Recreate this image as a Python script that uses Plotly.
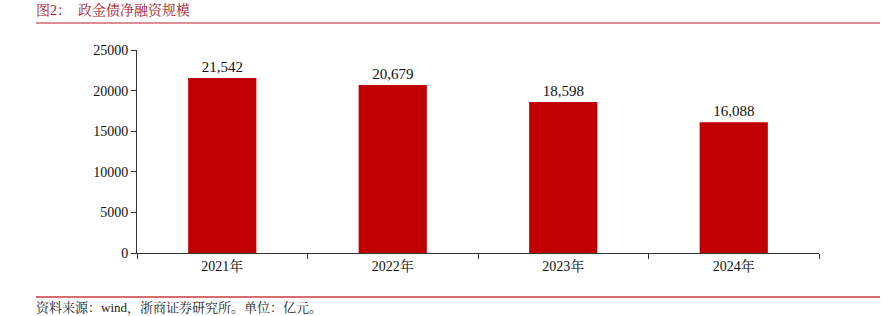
import plotly.graph_objects as go

categories = ["2021年", "2022年", "2023年", "2024年"]
values = [21542, 20679, 18598, 16088]
value_labels = ["21,542", "20,679", "18,598", "16,088"]
y_ticks = [0, 5000, 10000, 15000, 20000, 25000]

FONT = "Times New Roman, Liberation Serif, Noto Serif CJK SC, Noto Sans CJK SC, serif"
W, H = 892, 316
PL, PR, PT, PB = 137, 819, 50, 253
L, R, T, B = PL, W - PR, PT, H - PB

fig = go.Figure()
fig.add_trace(go.Bar(
    x=categories, y=values, width=0.4,
    marker=dict(color="#c00000", line=dict(width=0)),
    text=value_labels, textposition="outside",
    textfont=dict(family=FONT, size=15, color="#111111"),
    cliponaxis=False,
))

fig.update_layout(
    width=W, height=H,
    margin=dict(l=L, r=R, t=T, b=B, pad=0),
    paper_bgcolor="white", plot_bgcolor="white",
    showlegend=False,
    font=dict(family=FONT, size=14, color="#111111"),
    xaxis=dict(
        type="category", showline=True, linecolor="#333333", linewidth=1,
        ticks="outside", tickson="boundaries", ticklen=5, tickcolor="#333333",
        tickfont=dict(family=FONT, size=14, color="#111111"),
        showgrid=False, zeroline=False,
    ),
    yaxis=dict(
        range=[0, 25000], tickvals=y_ticks, ticktext=[str(v) for v in y_ticks],
        showline=True, linecolor="#333333", linewidth=1,
        ticks="outside", ticklen=5, tickcolor="#333333",
        tickfont=dict(family=FONT, size=14, color="#111111"),
        showgrid=False, zeroline=False,
    ),
)

def px_x(x):
    return (x - PL) / (PR - PL)

def px_y(y):
    return 1 - (y - PT) / (PB - PT)

fig.add_shape(type="line", xref="paper", yref="paper",
              x0=px_x(36), x1=px_x(880), y0=px_y(23), y1=px_y(23),
              line=dict(color="#d4676e", width=1.5))
fig.add_shape(type="line", xref="paper", yref="paper",
              x0=px_x(36), x1=px_x(880), y0=px_y(297), y1=px_y(297),
              line=dict(color="#c83c3c", width=1.5))

fig.add_annotation(xref="paper", yref="paper", x=px_x(34), y=px_y(10),
                   xanchor="left", yanchor="middle", showarrow=False,
                   text="图2：  政金债净融资规模",
                   font=dict(family=FONT, size=14, color="#a8202a"))
fig.add_annotation(xref="paper", yref="paper", x=px_x(34), y=px_y(308),
                   xanchor="left", yanchor="middle", showarrow=False,
                   text="资料来源：wind，浙商证券研究所。单位：亿元。",
                   font=dict(family=FONT, size=13, color="#222222"))

fig.write_html("out.html")
